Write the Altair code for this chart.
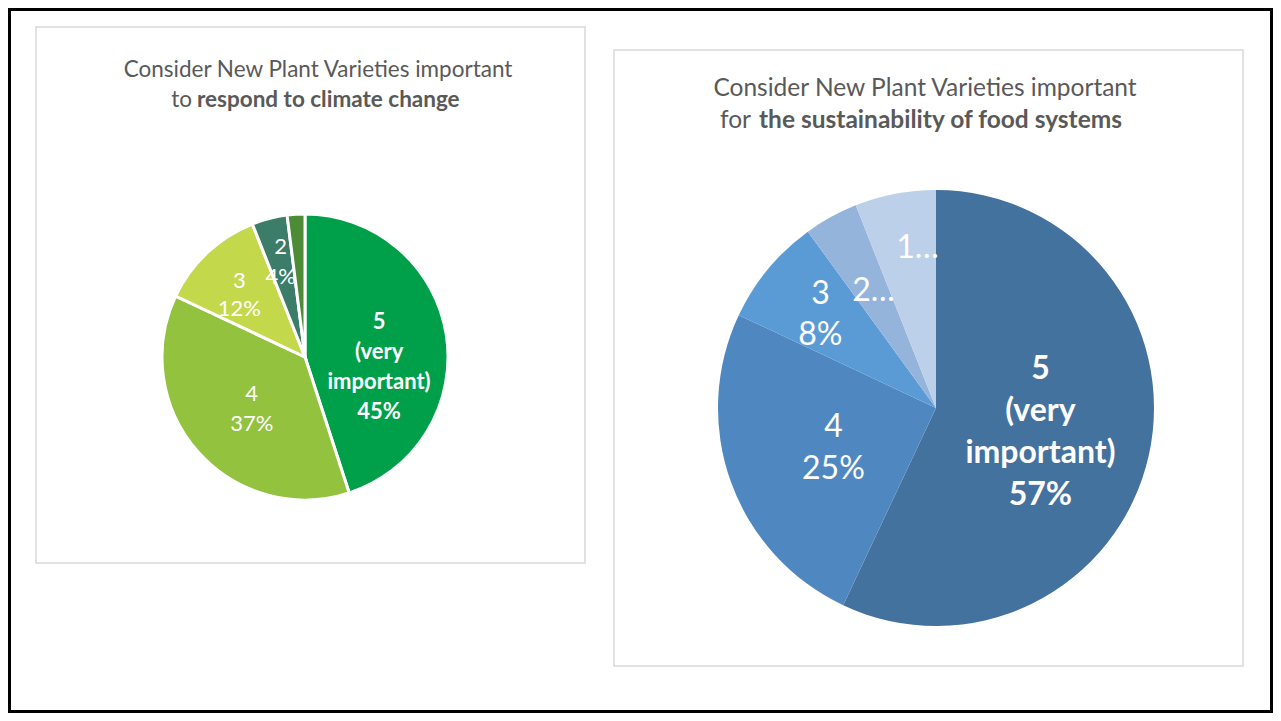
import altair as alt
import pandas as pd

# ---- data ----
left_cats = ["5 (very important)", "4", "3", "2", "1"]
left_vals = [45, 37, 12, 4, 2]
left_labels = ["5\n(very\nimportant)\n45%", "4\n37%", "3\n12%", "2\n4%", ""]

right_cats = ["5 (very important)", "4", "3", "2", "1"]
right_vals = [57, 25, 8, 4, 6]
right_labels = ["5\n(very\nimportant)\n57%", "4\n25%", "3\n8%", "2…", "1…"]

left_title_1 = "Consider New Plant Varieties important"
left_title_2a = "to"
left_title_2b = "respond to climate change"
right_title_1 = "Consider New Plant Varieties important"
right_title_2a = "for"
right_title_2b = "the sustainability of food systems"

# ---- styles ----
FONT = "Lato"
TITLE_COLOR = "#595959"
left_colors = ["#00A04A", "#92C23E", "#C4D84C", "#3B7D68", "#4E8B37"]
right_colors = ["#44729E", "#4F88C0", "#5B9BD5", "#95B4DC", "#BDD0EA"]

W, H = 1265, 705

left_df = pd.DataFrame({"cat": left_cats, "value": left_vals,
                        "label": left_labels, "order": range(len(left_cats))})
right_df = pd.DataFrame({"cat": right_cats, "value": right_vals,
                         "label": right_labels, "order": range(len(right_cats))})

one = alt.Data(values=[{}])
theta_scale = alt.Scale(domain=[0, 100])


def box(x1, x2, y1, y2, stroke="#D9D9D9", sw=1.5, fill="white"):
    return alt.Chart(one).mark_rect(fill=fill, stroke=stroke, strokeWidth=sw).encode(
        x=alt.value(x1), x2=alt.value(x2), y=alt.value(y1), y2=alt.value(y2))


def txt(s, x, y, size, weight="normal", align="center"):
    return alt.Chart(one).mark_text(font=FONT, fontSize=size, fontWeight=weight,
                                    color=TITLE_COLOR, align=align, baseline="middle").encode(
        x=alt.value(x), y=alt.value(y), text=alt.value(s))


def pie(df, cats, colors, cx, cy, R, stroke_w, specs):
    arc = alt.Chart(df).mark_arc(outerRadius=R, stroke="white", strokeWidth=stroke_w,
                                 strokeOpacity=1 if stroke_w > 0 else 0).encode(
        theta=alt.Theta("value:Q", stack=True, scale=theta_scale),
        order=alt.Order("order:Q"),
        color=alt.Color("cat:N", scale=alt.Scale(domain=cats, range=colors), legend=None),
        x=alt.value(cx), y=alt.value(cy))
    layers = [arc]
    for cat, (r, size, weight, lh, dx, dy) in specs.items():
        t = alt.Chart(df).transform_window(
            cum="sum(value)", sort=[alt.SortField("order")]
        ).transform_calculate(
            mid="datum.cum - datum.value / 2"
        ).transform_filter(
            alt.datum.cat == cat
        ).mark_text(radius=r, font=FONT, fontSize=size, fontWeight=weight, color="white",
                    lineBreak="\n", lineHeight=lh, align="center", baseline="middle",
                    dx=dx, dy=dy).encode(
            theta=alt.Theta("mid:Q", scale=theta_scale),
            text="label:N",
            x=alt.value(cx), y=alt.value(cy))
        layers.append(t)
    return layers


left_specs = {
    "5 (very important)": (75, 22, "bold", 30, 0, -23),
    "4": (71, 22, "normal", 30, 0, -10),
    "3": (96, 22, "normal", 28, 0, -6),
    "2": (98, 22, "normal", 30, 0, -15),
}
right_specs = {
    "5 (very important)": (107, 32, "bold", 42, 0, -62),
    "4": (109, 32, "normal", 42, 0, -18),
    "3": (150, 32, "normal", 41, 0, -18),
    "2": (134, 32, "normal", 42, 2, 0),
    "1": (163, 32, "normal", 42, 12, 0),
}

layers = [
    box(1.5, W - 1.5, 1.5, H - 1.5, stroke="black", sw=3),
    box(28, 577, 19, 555),
    box(606, 1235, 42, 658),
    txt(left_title_1, 310, 62, 22.5),
    txt(left_title_2a, 184, 92, 22.5, align="right"),
    txt(left_title_2b, 189, 92, 22.5, weight="bold", align="left"),
    txt(right_title_1, 917, 81, 24.5),
    txt(right_title_2a, 743, 113, 24.5, align="right"),
    txt(right_title_2b, 751, 113, 24.5, weight="bold", align="left"),
]
layers += pie(left_df, left_cats, left_colors, 297, 349, 143, 3, left_specs)
layers += pie(right_df, right_cats, right_colors, 928, 400, 218, 0, right_specs)

chart = alt.layer(*layers).resolve_scale(color="independent").properties(
    width=W, height=H,
    autosize=alt.AutoSizeParams(type="fit", contains="padding"),
    padding=0,
).configure_view(strokeWidth=0).configure(background="white")

chart.save("out.html", embed_options={"renderer": "svg", "actions": False})
